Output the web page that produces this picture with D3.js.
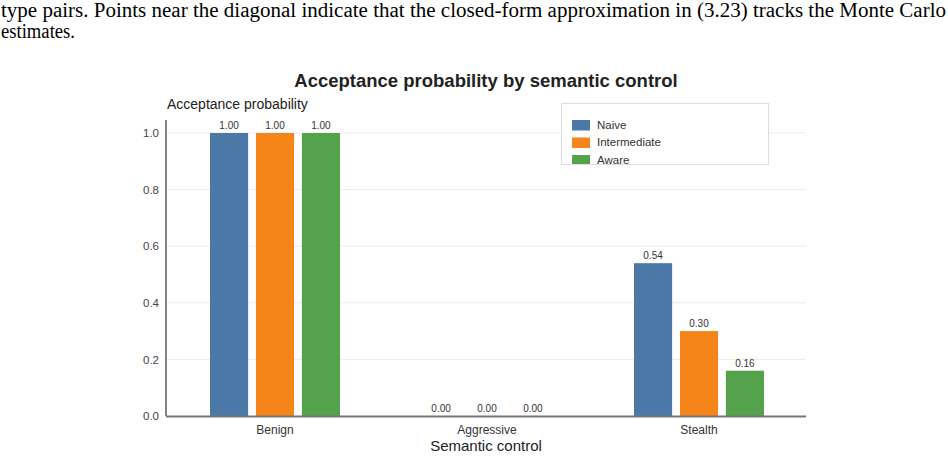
<!DOCTYPE html>
<html lang="en">
<head>
<meta charset="UTF-8">
<title>Acceptance probability</title>
<script src="https://d3js.org/d3.v7.min.js"></script>
<style>
  body { margin: 0; background: #fff; }
  svg { display: block; }
</style>
</head>
<body>
<svg width="948" height="457"></svg>
<script>
// data
const categories = ["Benign", "Aggressive", "Stealth"];
const seriesNames = ["Naive", "Intermediate", "Aware"];
const naive = [1.00, 0.00, 0.54];
const intermediate = [1.00, 0.00, 0.30];
const aware = [1.00, 0.00, 0.16];
const yTicks = [0.0, 0.2, 0.4, 0.6, 0.8, 1.0];
const colors = ["#4c78a8", "#f58518", "#54a24b"];

const values = [naive, intermediate, aware];

const svg = d3.select("svg");

// caption text from the page above the figure
const caption = svg.append("g")
    .style("font-family", "'Liberation Serif', 'DejaVu Serif', serif")
    .style("font-size", "20px")
    .attr("fill", "#000");
caption.append("text")
    .attr("x", 1).attr("y", 17)
    .attr("textLength", 945).attr("lengthAdjust", "spacingAndGlyphs")
    .text("type pairs. Points near the diagonal indicate that the closed-form approximation in (3.23) tracks the Monte Carlo");
caption.append("text")
    .attr("x", 1).attr("y", 38)
    .attr("textLength", 74).attr("lengthAdjust", "spacingAndGlyphs")
    .text("estimates.");

const plotLeft = 166, plotRight = 806, plotTop = 133, plotBottom = 416;

const x = d3.scaleBand()
    .domain(categories)
    .range([169, 805]);

const xInner = d3.scaleBand()
    .domain(seriesNames)
    .range([0, 130])
    .paddingInner(0.17);

const y = d3.scaleLinear()
    .domain([0, 1])
    .range([plotBottom, plotTop]);

// grid lines
svg.append("g")
    .selectAll("line")
    .data(yTicks.slice(1))
    .enter().append("line")
    .attr("x1", plotLeft).attr("x2", plotRight)
    .attr("y1", d => y(d)).attr("y2", d => y(d))
    .attr("stroke", "#ebebeb")
    .attr("stroke-width", 1);

// y axis
const yAxis = svg.append("g")
    .attr("transform", `translate(${plotLeft},0)`)
    .call(d3.axisLeft(y).tickValues(yTicks).tickFormat(d3.format(".1f")).tickSize(0).tickPadding(7));
yAxis.select(".domain").remove();
yAxis.selectAll("text")
    .style("font-family", "'Liberation Sans', Arial, sans-serif")
    .style("font-size", "11.5px")
    .attr("fill", "#444");
svg.append("line")
    .attr("x1", plotLeft).attr("x2", plotLeft)
    .attr("y1", 120).attr("y2", plotBottom)
    .attr("stroke", "#333").attr("stroke-width", 1.2);

// bars
const groups = svg.append("g")
    .selectAll("g")
    .data(categories)
    .enter().append("g")
    .attr("transform", d => `translate(${x(d) + x.bandwidth() / 2 - 65},0)`);

groups.selectAll("rect")
    .data((d, i) => seriesNames.map((s, j) => ({ s: s, v: values[j][i], c: colors[j] })))
    .enter().append("rect")
    .attr("x", d => xInner(d.s))
    .attr("width", xInner.bandwidth())
    .attr("y", d => y(d.v))
    .attr("height", d => Math.max(1, plotBottom - y(d.v)))
    .attr("fill", d => d.c);

groups.selectAll("text")
    .data((d, i) => seriesNames.map((s, j) => ({ s: s, v: values[j][i] })))
    .enter().append("text")
    .attr("x", d => xInner(d.s) + xInner.bandwidth() / 2)
    .attr("y", d => y(d.v) - 4)
    .attr("text-anchor", "middle")
    .style("font-family", "'Liberation Sans', Arial, sans-serif")
    .style("font-size", "10px")
    .attr("fill", "#333")
    .text(d => d.v.toFixed(2));

// x axis
svg.append("line")
    .attr("x1", plotLeft).attr("x2", plotRight)
    .attr("y1", plotBottom + 0.5).attr("y2", plotBottom + 0.5)
    .attr("stroke", "#777").attr("stroke-width", 2);

svg.append("g")
    .selectAll("text")
    .data(categories)
    .enter().append("text")
    .attr("x", d => x(d) + x.bandwidth() / 2)
    .attr("y", 434)
    .attr("text-anchor", "middle")
    .style("font-family", "'Liberation Sans', Arial, sans-serif")
    .style("font-size", "12px")
    .attr("fill", "#333")
    .text(d => d);

// titles
svg.append("text")
    .attr("x", 486).attr("y", 87)
    .attr("text-anchor", "middle")
    .style("font-family", "'Liberation Sans', Arial, sans-serif")
    .style("font-size", "18.5px")
    .style("font-weight", "bold")
    .attr("fill", "#222")
    .text("Acceptance probability by semantic control");

svg.append("text")
    .attr("x", 167).attr("y", 109)
    .style("font-family", "'Liberation Sans', Arial, sans-serif")
    .style("font-size", "14px")
    .attr("fill", "#222")
    .text("Acceptance probability");

svg.append("text")
    .attr("x", 486).attr("y", 450.5)
    .attr("text-anchor", "middle")
    .style("font-family", "'Liberation Sans', Arial, sans-serif")
    .style("font-size", "15px")
    .attr("fill", "#222")
    .text("Semantic control");

// legend (box clips the last row)
const defs = svg.append("defs");
defs.append("clipPath").attr("id", "legclip")
    .append("rect").attr("x", 561).attr("y", 103).attr("width", 208).attr("height", 62);

const legend = svg.append("g").attr("clip-path", "url(#legclip)");
legend.append("rect")
    .attr("x", 561).attr("y", 103).attr("width", 208).attr("height", 62)
    .attr("fill", "#fff");

const legRows = legend.selectAll("g")
    .data(seriesNames)
    .enter().append("g")
    .attr("transform", (d, i) => `translate(572,${120 + i * 17.5})`);
legRows.append("rect")
    .attr("width", 18).attr("height", 10.5)
    .attr("fill", (d, i) => colors[i]);
legRows.append("text")
    .attr("x", 25).attr("y", 8.5)
    .style("font-family", "'Liberation Sans', Arial, sans-serif")
    .style("font-size", "11.5px")
    .attr("fill", "#333")
    .text(d => d);

svg.append("rect")
    .attr("x", 561.5).attr("y", 103.5).attr("width", 207).attr("height", 61)
    .attr("fill", "none").attr("stroke", "#ddd");
</script>
</body>
</html>
